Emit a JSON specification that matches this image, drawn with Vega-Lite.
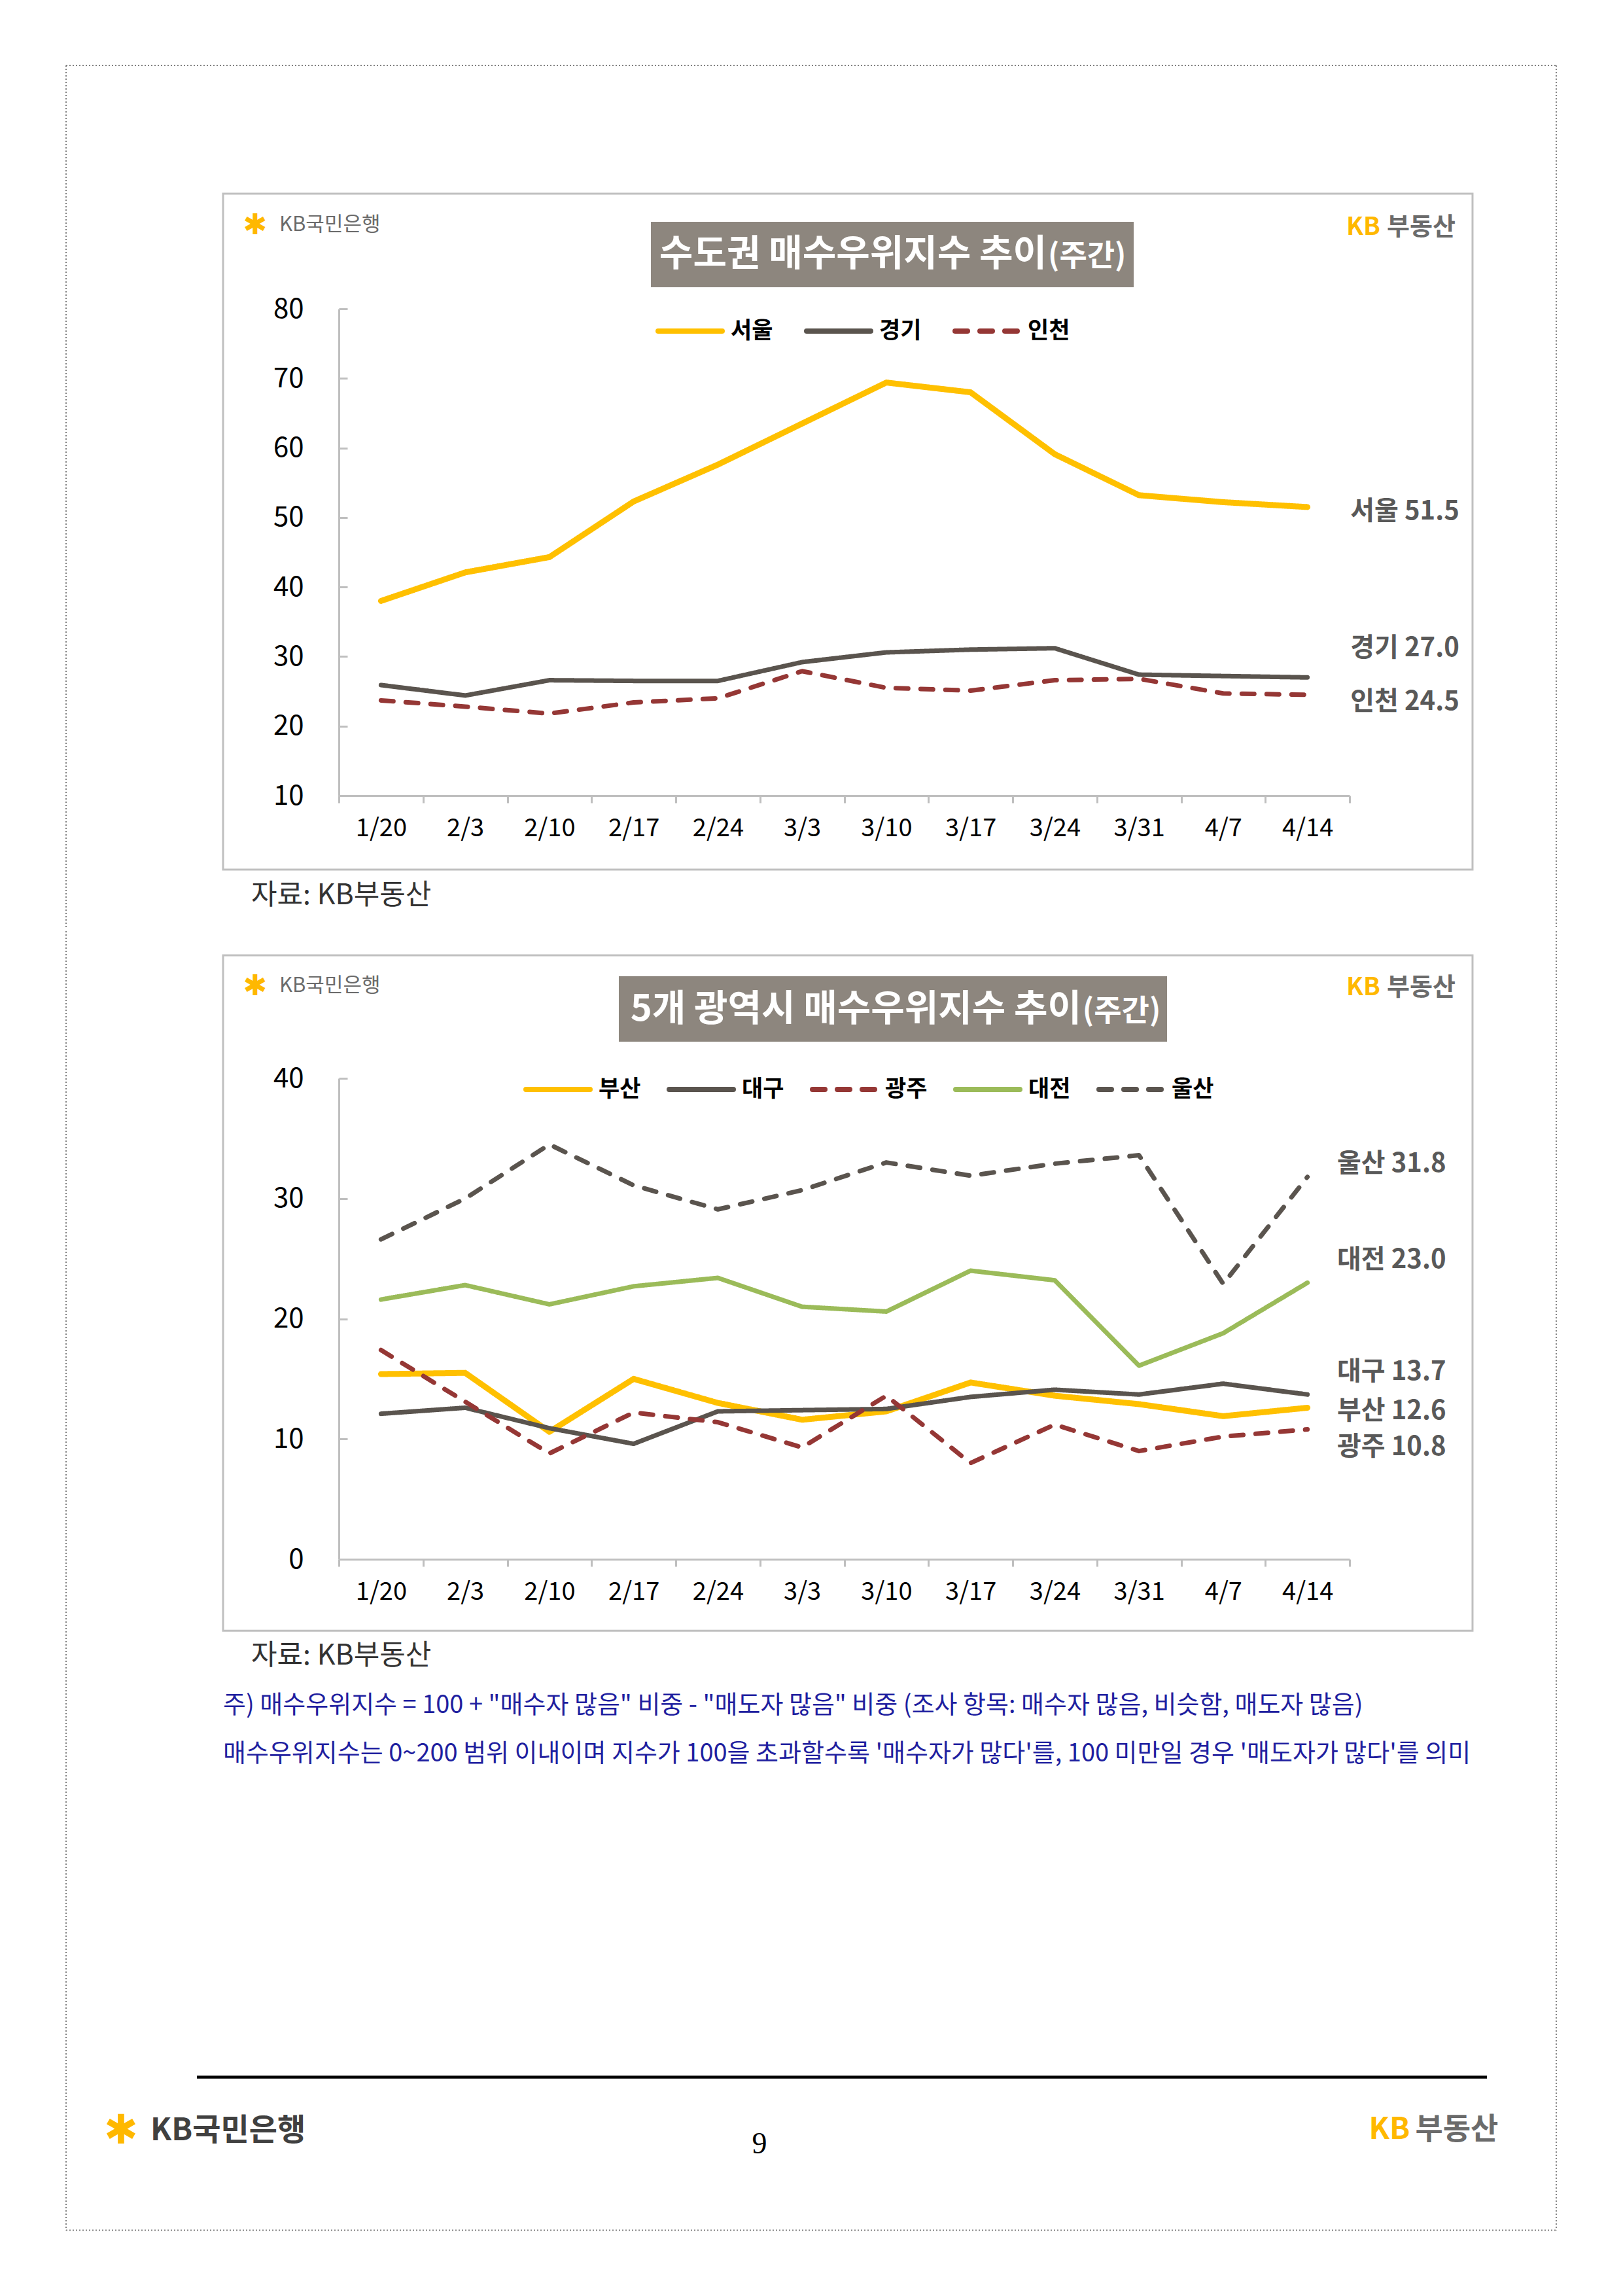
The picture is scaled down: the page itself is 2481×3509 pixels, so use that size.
{
  "$schema": "https://vega.github.io/schema/vega-lite/v6.json",
  "background": "white",
  "padding": {"left": 99, "top": 99, "right": 0, "bottom": 0},
  "spacing": 0,
  "resolve": {"scale": {"color": "independent", "strokeDash": "independent"}, "legend": {"color": "independent", "strokeDash": "independent"}},
  "config": {
    "font": "Noto Sans CJK KR",
    "view": {"stroke": null},
    "text": {"font": "Noto Sans CJK KR"}
  },
  "datasets": {
    "c1": [
      {"i":0,"d":"1/20","s":"서울","v":38.0},{"i":1,"d":"2/3","s":"서울","v":42.1},{"i":2,"d":"2/10","s":"서울","v":44.3},{"i":3,"d":"2/17","s":"서울","v":52.3},{"i":4,"d":"2/24","s":"서울","v":57.6},{"i":5,"d":"3/3","s":"서울","v":63.5},{"i":6,"d":"3/10","s":"서울","v":69.4},{"i":7,"d":"3/17","s":"서울","v":68.0},{"i":8,"d":"3/24","s":"서울","v":59.1},{"i":9,"d":"3/31","s":"서울","v":53.2},{"i":10,"d":"4/7","s":"서울","v":52.2},{"i":11,"d":"4/14","s":"서울","v":51.5},
      {"i":0,"d":"1/20","s":"경기","v":25.9},{"i":1,"d":"2/3","s":"경기","v":24.4},{"i":2,"d":"2/10","s":"경기","v":26.6},{"i":3,"d":"2/17","s":"경기","v":26.5},{"i":4,"d":"2/24","s":"경기","v":26.5},{"i":5,"d":"3/3","s":"경기","v":29.2},{"i":6,"d":"3/10","s":"경기","v":30.6},{"i":7,"d":"3/17","s":"경기","v":31.0},{"i":8,"d":"3/24","s":"경기","v":31.2},{"i":9,"d":"3/31","s":"경기","v":27.4},{"i":10,"d":"4/7","s":"경기","v":27.2},{"i":11,"d":"4/14","s":"경기","v":27.0},
      {"i":0,"d":"1/20","s":"인천","v":23.7},{"i":1,"d":"2/3","s":"인천","v":22.8},{"i":2,"d":"2/10","s":"인천","v":21.8},{"i":3,"d":"2/17","s":"인천","v":23.4},{"i":4,"d":"2/24","s":"인천","v":24.0},{"i":5,"d":"3/3","s":"인천","v":27.9},{"i":6,"d":"3/10","s":"인천","v":25.5},{"i":7,"d":"3/17","s":"인천","v":25.1},{"i":8,"d":"3/24","s":"인천","v":26.6},{"i":9,"d":"3/31","s":"인천","v":26.8},{"i":10,"d":"4/7","s":"인천","v":24.7},{"i":11,"d":"4/14","s":"인천","v":24.5}
    ],
    "c2": [
      {"i":0,"d":"1/20","s":"부산","v":15.4},{"i":1,"d":"2/3","s":"부산","v":15.5},{"i":2,"d":"2/10","s":"부산","v":10.6},{"i":3,"d":"2/17","s":"부산","v":15.0},{"i":4,"d":"2/24","s":"부산","v":13.0},{"i":5,"d":"3/3","s":"부산","v":11.6},{"i":6,"d":"3/10","s":"부산","v":12.3},{"i":7,"d":"3/17","s":"부산","v":14.7},{"i":8,"d":"3/24","s":"부산","v":13.6},{"i":9,"d":"3/31","s":"부산","v":12.9},{"i":10,"d":"4/7","s":"부산","v":11.9},{"i":11,"d":"4/14","s":"부산","v":12.6},
      {"i":0,"d":"1/20","s":"대구","v":12.1},{"i":1,"d":"2/3","s":"대구","v":12.6},{"i":2,"d":"2/10","s":"대구","v":10.9},{"i":3,"d":"2/17","s":"대구","v":9.6},{"i":4,"d":"2/24","s":"대구","v":12.3},{"i":5,"d":"3/3","s":"대구","v":12.4},{"i":6,"d":"3/10","s":"대구","v":12.5},{"i":7,"d":"3/17","s":"대구","v":13.5},{"i":8,"d":"3/24","s":"대구","v":14.1},{"i":9,"d":"3/31","s":"대구","v":13.7},{"i":10,"d":"4/7","s":"대구","v":14.6},{"i":11,"d":"4/14","s":"대구","v":13.7},
      {"i":0,"d":"1/20","s":"광주","v":17.4},{"i":1,"d":"2/3","s":"광주","v":13.1},{"i":2,"d":"2/10","s":"광주","v":8.8},{"i":3,"d":"2/17","s":"광주","v":12.2},{"i":4,"d":"2/24","s":"광주","v":11.4},{"i":5,"d":"3/3","s":"광주","v":9.3},{"i":6,"d":"3/10","s":"광주","v":13.6},{"i":7,"d":"3/17","s":"광주","v":8.0},{"i":8,"d":"3/24","s":"광주","v":11.2},{"i":9,"d":"3/31","s":"광주","v":9.0},{"i":10,"d":"4/7","s":"광주","v":10.2},{"i":11,"d":"4/14","s":"광주","v":10.8},
      {"i":0,"d":"1/20","s":"대전","v":21.6},{"i":1,"d":"2/3","s":"대전","v":22.8},{"i":2,"d":"2/10","s":"대전","v":21.2},{"i":3,"d":"2/17","s":"대전","v":22.7},{"i":4,"d":"2/24","s":"대전","v":23.4},{"i":5,"d":"3/3","s":"대전","v":21.0},{"i":6,"d":"3/10","s":"대전","v":20.6},{"i":7,"d":"3/17","s":"대전","v":24.0},{"i":8,"d":"3/24","s":"대전","v":23.2},{"i":9,"d":"3/31","s":"대전","v":16.1},{"i":10,"d":"4/7","s":"대전","v":18.8},{"i":11,"d":"4/14","s":"대전","v":23.0},
      {"i":0,"d":"1/20","s":"울산","v":26.6},{"i":1,"d":"2/3","s":"울산","v":30.0},{"i":2,"d":"2/10","s":"울산","v":34.5},{"i":3,"d":"2/17","s":"울산","v":31.1},{"i":4,"d":"2/24","s":"울산","v":29.1},{"i":5,"d":"3/3","s":"울산","v":30.7},{"i":6,"d":"3/10","s":"울산","v":33.0},{"i":7,"d":"3/17","s":"울산","v":31.9},{"i":8,"d":"3/24","s":"울산","v":32.9},{"i":9,"d":"3/31","s":"울산","v":33.6},{"i":10,"d":"4/7","s":"울산","v":22.9},{"i":11,"d":"4/14","s":"울산","v":31.8}
    ]
  },
  "vconcat": [
    {
      "width": 1545,
      "height": 744,
      "layer": [
        {"data": {"values": [{}]}, "mark": {"type": "rule", "stroke": "#808080", "strokeWidth": 2, "strokeDash": [2, 3]},
         "encoding": {"x": {"datum": -3.739}, "x2": {"datum": 13.954}, "y": {"datum": 115.0}}},
        {"data": {"values": [{}]}, "mark": {"type": "rule", "stroke": "#808080", "strokeWidth": 2, "strokeDash": [2, 3]},
         "encoding": {"x": {"datum": -3.739}, "y": {"datum": 115.0}, "y2": {"datum": -9.19}}},
        {"data": {"values": [{}]}, "mark": {"type": "rule", "stroke": "#808080", "strokeWidth": 2, "strokeDash": [2, 3]},
         "encoding": {"x": {"datum": 13.954}, "y": {"datum": 115.0}, "y2": {"datum": -9.19}}},
        {"data": {"values": [{}]}, "mark": {"type": "rect", "fill": "transparent", "stroke": "#c0c0c0", "strokeWidth": 3},
         "encoding": {"x": {"datum": -1.875}, "x2": {"datum": 12.96}, "y": {"datum": 96.56}, "y2": {"datum": -0.63}}},
        {"data": {"values": [{}]}, "mark": {"type": "rect", "fill": "#8D867E", "strokeWidth": 0},
         "encoding": {"x": {"datum": 3.205}, "x2": {"datum": 8.937}, "y": {"datum": 92.51}, "y2": {"datum": 83.1}}},
        {"data": {"values": [{}]}, "mark": {"type": "text", "text": "수도권 매수우위지수 추이", "align": "right", "baseline": "middle", "fontSize": 56, "fontWeight": "bold", "fill": "#ffffff"},
         "encoding": {"x": {"datum": 7.904}, "y": {"datum": 87.81}}},
        {"data": {"values": [{}]}, "mark": {"type": "text", "text": "(주간)", "align": "left", "baseline": "middle", "fontSize": 46, "fontWeight": "bold", "fill": "#ffffff"},
         "encoding": {"x": {"datum": 7.92}, "y": {"datum": 87.5}}},
        {"data": {"values": [{}]}, "mark": {"type": "text", "text": "✱", "font": "DejaVu Sans", "align": "center", "baseline": "middle", "fontSize": 44, "fill": "#FFB800"},
         "encoding": {"x": {"datum": -1.494}, "y": {"datum": 91.95}}},
        {"data": {"values": [{}]}, "mark": {"type": "text", "text": "KB국민은행", "align": "left", "baseline": "middle", "fontSize": 31, "fill": "#6b6b6b"},
         "encoding": {"x": {"datum": -1.207}, "y": {"datum": 92.04}}},
        {"data": {"values": [{}]}, "mark": {"type": "text", "text": "KB", "align": "left", "baseline": "middle", "fontSize": 38, "fontWeight": "bold", "fill": "#FFB800"},
         "encoding": {"x": {"datum": 11.461}, "y": {"datum": 91.62}}},
        {"data": {"values": [{}]}, "mark": {"type": "text", "text": "부동산", "align": "right", "baseline": "middle", "fontSize": 38, "fontWeight": "bold", "fill": "#6b6b6b"},
         "encoding": {"x": {"datum": 12.758}, "y": {"datum": 91.62}}},
        {
          "data": {"name": "c1"},
          "mark": {"type": "line", "strokeCap": "round", "strokeJoin": "round"},
          "encoding": {
            "x": {"field": "i", "type": "quantitative", "scale": {"domain": [-0.5, 11.5], "nice": false, "zero": false},
                  "axis": {"values": [-0.5, 0.5, 1.5, 2.5, 3.5, 4.5, 5.5, 6.5, 7.5, 8.5, 9.5, 10.5, 11.5],
                           "labelExpr": "datum.value > 11 ? '' : ['1/20','2/3','2/10','2/17','2/24','3/3','3/10','3/17','3/24','3/31','4/7','4/14'][round(datum.value + 0.5)]",
                           "labelOffset": 64.4, "labelFlush": false, "labelOverlap": false, "labelBound": false,
                           "title": null, "grid": false, "domainColor": "#bfbfbf", "domainWidth": 3,
                           "tickColor": "#bfbfbf", "tickWidth": 3, "tickSize": 11, "labelPadding": 20,
                           "labelFontSize": 38, "labelColor": "#000000"}},
            "y": {"field": "v", "type": "quantitative", "scale": {"domain": [10, 80], "nice": false, "zero": false},
                  "axis": {"values": [10, 20, 30, 40, 50, 60, 70, 80], "title": null, "grid": false,
                           "domainColor": "#bfbfbf", "domainWidth": 3, "tickColor": "#bfbfbf", "tickWidth": 3,
                           "tickSize": -13, "labelPadding": 67, "labelFontSize": 42, "labelColor": "#000000"}},
            "color": {"field": "s", "type": "nominal",
                      "scale": {"domain": ["서울", "경기", "인천"], "range": ["#FFC000", "#5A544E", "#953735"]},
                      "legend": {"orient": "none", "legendX": 484, "legendY": -19, "direction": "horizontal", "title": null,
                                 "symbolType": "stroke", "symbolSize": 9604, "symbolStrokeWidth": 8,
                                 "labelFontSize": 35, "labelFontWeight": "bold", "labelColor": "#000000",
                                 "labelOffset": 9, "columnPadding": 35,
                                 "encode": {"symbols": {"update": {"strokeCap": {"value": "round"}}}}}},
            "strokeDash": {"field": "s", "type": "nominal",
                           "scale": {"domain": ["서울", "경기", "인천"], "range": [[1, 0], [1, 0], [19, 19]]},
                           "legend": {"orient": "none", "legendX": 484, "legendY": -19, "direction": "horizontal", "title": null,
                                      "symbolType": "stroke", "symbolSize": 9604, "symbolStrokeWidth": 8,
                                      "labelFontSize": 35, "labelFontWeight": "bold", "labelColor": "#000000",
                                      "labelOffset": 9, "columnPadding": 35,
                                      "encode": {"symbols": {"update": {"strokeCap": {"value": "round"}}}}}},
            "strokeWidth": {"condition": {"test": "datum.s === '서울'", "value": 9}, "value": 7}
          }
        },
        {
          "data": {"name": "c1"},
          "transform": [{"filter": "datum.i === 11"}, {"calculate": "datum.s + ' ' + format(datum.v, '.1f')", "as": "lab"}],
          "layer": [
            {"transform": [{"filter": "datum.s === '서울'"}],
             "mark": {"type": "text", "align": "left", "baseline": "middle", "fontSize": 40, "fontWeight": "bold", "fill": "#595959", "dy": 7},
             "encoding": {"x": {"datum": 11.51}, "y": {"field": "v", "type": "quantitative"}, "text": {"field": "lab"}}},
            {"transform": [{"filter": "datum.s === '경기'"}],
             "mark": {"type": "text", "align": "left", "baseline": "middle", "fontSize": 40, "fontWeight": "bold", "fill": "#595959", "dy": -44},
             "encoding": {"x": {"datum": 11.51}, "y": {"field": "v", "type": "quantitative"}, "text": {"field": "lab"}}},
            {"transform": [{"filter": "datum.s === '인천'"}],
             "mark": {"type": "text", "align": "left", "baseline": "middle", "fontSize": 40, "fontWeight": "bold", "fill": "#595959", "dy": 11},
             "encoding": {"x": {"datum": 11.51}, "y": {"field": "v", "type": "quantitative"}, "text": {"field": "lab"}}}
          ]
        },
        {"data": {"values": [{}]}, "mark": {"type": "text", "text": "자료: KB부동산", "align": "left", "baseline": "middle", "fontSize": 43, "fill": "#333333"},
         "encoding": {"x": {"datum": -1.541}, "y": {"datum": -4.39}}}
      ]
    },
    {
      "width": 1545,
      "height": 735,
      "layer": [
        {"data": {"values": [{}]}, "mark": {"type": "rule", "stroke": "#808080", "strokeWidth": 2, "strokeDash": [2, 3]},
         "encoding": {"x": {"datum": -3.739}, "y": {"datum": 52.25}, "y2": {"datum": -55.81}}},
        {"data": {"values": [{}]}, "mark": {"type": "rule", "stroke": "#808080", "strokeWidth": 2, "strokeDash": [2, 3]},
         "encoding": {"x": {"datum": 13.954}, "y": {"datum": 52.25}, "y2": {"datum": -55.81}}},
        {"data": {"values": [{}]}, "mark": {"type": "rule", "stroke": "#808080", "strokeWidth": 2, "strokeDash": [2, 3]},
         "encoding": {"x": {"datum": -3.739}, "x2": {"datum": 13.954}, "y": {"datum": -55.81}}},
        {"data": {"values": [{}]}, "mark": {"type": "rect", "fill": "transparent", "stroke": "#c0c0c0", "strokeWidth": 3},
         "encoding": {"x": {"datum": -1.875}, "x2": {"datum": 12.96}, "y": {"datum": 50.23}, "y2": {"datum": -5.94}}},
        {"data": {"values": [{}]}, "mark": {"type": "rect", "fill": "#8D867E", "strokeWidth": 0},
         "encoding": {"x": {"datum": 2.824}, "x2": {"datum": 9.333}, "y": {"datum": 48.49}, "y2": {"datum": 43.05}}},
        {"data": {"values": [{}]}, "mark": {"type": "text", "text": "5개 광역시 매수우위지수 추이", "align": "right", "baseline": "middle", "fontSize": 56, "fontWeight": "bold", "fill": "#ffffff"},
         "encoding": {"x": {"datum": 8.316}, "y": {"datum": 45.72}}},
        {"data": {"values": [{}]}, "mark": {"type": "text", "text": "(주간)", "align": "left", "baseline": "middle", "fontSize": 46, "fontWeight": "bold", "fill": "#ffffff"},
         "encoding": {"x": {"datum": 8.33}, "y": {"datum": 45.55}}},
        {"data": {"values": [{}]}, "mark": {"type": "text", "text": "✱", "font": "DejaVu Sans", "align": "center", "baseline": "middle", "fontSize": 44, "fill": "#FFB800"},
         "encoding": {"x": {"datum": -1.494}, "y": {"datum": 47.62}}},
        {"data": {"values": [{}]}, "mark": {"type": "text", "text": "KB국민은행", "align": "left", "baseline": "middle", "fontSize": 31, "fill": "#6b6b6b"},
         "encoding": {"x": {"datum": -1.207}, "y": {"datum": 47.68}}},
        {"data": {"values": [{}]}, "mark": {"type": "text", "text": "KB", "align": "left", "baseline": "middle", "fontSize": 38, "fontWeight": "bold", "fill": "#FFB800"},
         "encoding": {"x": {"datum": 11.461}, "y": {"datum": 47.51}}},
        {"data": {"values": [{}]}, "mark": {"type": "text", "text": "부동산", "align": "right", "baseline": "middle", "fontSize": 38, "fontWeight": "bold", "fill": "#6b6b6b"},
         "encoding": {"x": {"datum": 12.758}, "y": {"datum": 47.51}}},
        {
          "data": {"name": "c2"},
          "mark": {"type": "line", "strokeCap": "round", "strokeJoin": "round"},
          "encoding": {
            "x": {"field": "i", "type": "quantitative", "scale": {"domain": [-0.5, 11.5], "nice": false, "zero": false},
                  "axis": {"values": [-0.5, 0.5, 1.5, 2.5, 3.5, 4.5, 5.5, 6.5, 7.5, 8.5, 9.5, 10.5, 11.5],
                           "labelExpr": "datum.value > 11 ? '' : ['1/20','2/3','2/10','2/17','2/24','3/3','3/10','3/17','3/24','3/31','4/7','4/14'][round(datum.value + 0.5)]",
                           "labelOffset": 64.4, "labelFlush": false, "labelOverlap": false, "labelBound": false,
                           "title": null, "grid": false, "domainColor": "#bfbfbf", "domainWidth": 3,
                           "tickColor": "#bfbfbf", "tickWidth": 3, "tickSize": 11, "labelPadding": 20,
                           "labelFontSize": 38, "labelColor": "#000000"}},
            "y": {"field": "v", "type": "quantitative", "scale": {"domain": [0, 40], "nice": false, "zero": false},
                  "axis": {"values": [0, 10, 20, 30, 40], "title": null, "grid": false,
                           "domainColor": "#bfbfbf", "domainWidth": 3, "tickColor": "#bfbfbf", "tickWidth": 3,
                           "tickSize": -13, "labelPadding": 67, "labelFontSize": 42, "labelColor": "#000000"}},
            "color": {"field": "s", "type": "nominal",
                      "scale": {"domain": ["부산", "대구", "광주", "대전", "울산"], "range": ["#FFC000", "#5A544E", "#953735", "#9BBB59", "#5A544E"]},
                      "legend": {"orient": "none", "legendX": 282, "legendY": -36, "direction": "horizontal", "title": null,
                                 "symbolType": "stroke", "symbolSize": 9604, "symbolStrokeWidth": 8,
                                 "labelFontSize": 35, "labelFontWeight": "bold", "labelColor": "#000000",
                                 "labelOffset": 9, "columnPadding": 27,
                                 "encode": {"symbols": {"update": {"strokeCap": {"value": "round"}}}}}},
            "strokeDash": {"field": "s", "type": "nominal",
                           "scale": {"domain": ["부산", "대구", "광주", "대전", "울산"], "range": [[1, 0], [1, 0], [19, 19], [1, 0], [19, 19]]},
                           "legend": {"orient": "none", "legendX": 282, "legendY": -36, "direction": "horizontal", "title": null,
                                      "symbolType": "stroke", "symbolSize": 9604, "symbolStrokeWidth": 8,
                                      "labelFontSize": 35, "labelFontWeight": "bold", "labelColor": "#000000",
                                      "labelOffset": 9, "columnPadding": 27,
                                      "encode": {"symbols": {"update": {"strokeCap": {"value": "round"}}}}}},
            "strokeWidth": {"condition": {"test": "datum.s === '부산'", "value": 9}, "value": 7}
          }
        },
        {
          "data": {"name": "c2"},
          "transform": [{"filter": "datum.i === 11"}, {"calculate": "datum.s + ' ' + format(datum.v, '.1f')", "as": "lab"}],
          "layer": [
            {"transform": [{"filter": "datum.s === '울산'"}],
             "mark": {"type": "text", "align": "left", "baseline": "middle", "fontSize": 40, "fontWeight": "bold", "fill": "#595959", "dy": -20},
             "encoding": {"x": {"datum": 11.353}, "y": {"field": "v", "type": "quantitative"}, "text": {"field": "lab"}}},
            {"transform": [{"filter": "datum.s === '대전'"}],
             "mark": {"type": "text", "align": "left", "baseline": "middle", "fontSize": 40, "fontWeight": "bold", "fill": "#595959", "dy": -34},
             "encoding": {"x": {"datum": 11.353}, "y": {"field": "v", "type": "quantitative"}, "text": {"field": "lab"}}},
            {"transform": [{"filter": "datum.s === '대구'"}],
             "mark": {"type": "text", "align": "left", "baseline": "middle", "fontSize": 40, "fontWeight": "bold", "fill": "#595959", "dy": -34},
             "encoding": {"x": {"datum": 11.353}, "y": {"field": "v", "type": "quantitative"}, "text": {"field": "lab"}}},
            {"transform": [{"filter": "datum.s === '부산'"}],
             "mark": {"type": "text", "align": "left", "baseline": "middle", "fontSize": 40, "fontWeight": "bold", "fill": "#595959", "dy": 6},
             "encoding": {"x": {"datum": 11.353}, "y": {"field": "v", "type": "quantitative"}, "text": {"field": "lab"}}},
            {"transform": [{"filter": "datum.s === '광주'"}],
             "mark": {"type": "text", "align": "left", "baseline": "middle", "fontSize": 40, "fontWeight": "bold", "fill": "#595959", "dy": 27},
             "encoding": {"x": {"datum": 11.353}, "y": {"field": "v", "type": "quantitative"}, "text": {"field": "lab"}}}
          ]
        },
        {"data": {"values": [{}]}, "mark": {"type": "text", "text": "자료: KB부동산", "align": "left", "baseline": "middle", "fontSize": 43, "fill": "#333333"},
         "encoding": {"x": {"datum": -1.541}, "y": {"datum": -8.07}}},
        {"data": {"values": [{}]}, "mark": {"type": "text", "text": "주) 매수우위지수 = 100 + \"매수자 많음\" 비중 - \"매도자 많음\" 비중  (조사 항목: 매수자 많음, 비슷함, 매도자 많음)", "align": "left", "baseline": "middle", "fontSize": 38, "fill": "#1f1f9f"},
         "encoding": {"x": {"datum": -1.875}, "y": {"datum": -12.2}}},
        {"data": {"values": [{}]}, "mark": {"type": "text", "text": "매수우위지수는 0~200 범위 이내이며 지수가 100을 초과할수록 '매수자가 많다'를, 100 미만일 경우 '매도자가 많다'를 의미", "align": "left", "baseline": "middle", "fontSize": 38, "fill": "#1f1f9f"},
         "encoding": {"x": {"datum": -1.875}, "y": {"datum": -16.23}}},
        {"data": {"values": [{}]}, "mark": {"type": "rule", "stroke": "#000000", "strokeWidth": 4.5},
         "encoding": {"x": {"datum": -2.185}, "x2": {"datum": 13.131}, "y": {"datum": -43.07}}},
        {"data": {"values": [{}]}, "mark": {"type": "text", "text": "✱", "font": "DejaVu Sans", "align": "center", "baseline": "middle", "fontSize": 62, "fill": "#FFB800"},
         "encoding": {"x": {"datum": -3.086}, "y": {"datum": -47.59}}},
        {"data": {"values": [{}]}, "mark": {"type": "text", "text": "KB국민은행", "align": "left", "baseline": "middle", "fontSize": 47, "fontWeight": "bold", "fill": "#404040"},
         "encoding": {"x": {"datum": -2.737}, "y": {"datum": -47.59}}},
        {"data": {"values": [{}]}, "mark": {"type": "text", "text": "KB", "align": "left", "baseline": "middle", "fontSize": 46, "fontWeight": "bold", "fill": "#FFB800"},
         "encoding": {"x": {"datum": 11.729}, "y": {"datum": -47.43}}},
        {"data": {"values": [{}]}, "mark": {"type": "text", "text": "부동산", "align": "right", "baseline": "middle", "fontSize": 46, "fontWeight": "bold", "fill": "#6b6b6b"},
         "encoding": {"x": {"datum": 13.266}, "y": {"datum": -47.43}}},
        {"data": {"values": [{}]}, "mark": {"type": "text", "text": "9", "font": "Liberation Serif", "align": "center", "baseline": "middle", "fontSize": 46, "fill": "#000000"},
         "encoding": {"x": {"datum": 4.494}, "y": {"datum": -48.68}}}
      ]
    }
  ]
}
